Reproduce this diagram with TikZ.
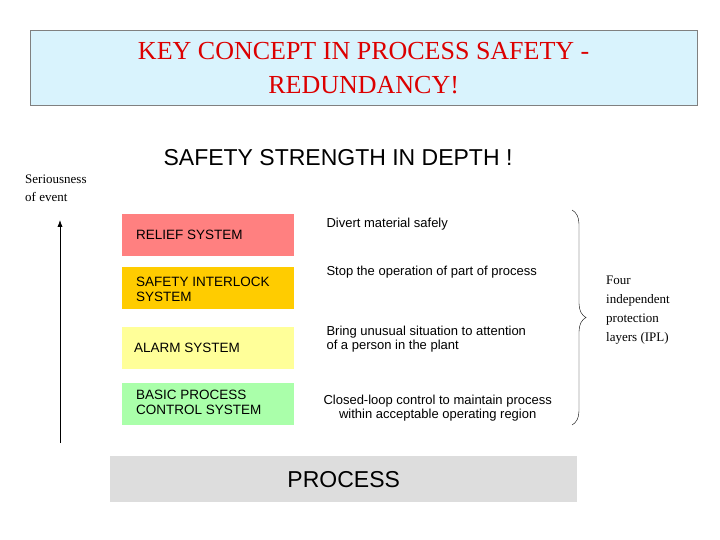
\documentclass[tikz,border=0pt]{standalone}
\usepackage{fontspec}
\setmainfont{Liberation Serif}
\setsansfont{Liberation Sans}
\usetikzlibrary{decorations.pathreplacing,arrows.meta}
\begin{document}
\begin{tikzpicture}[x=1pt,y=-1pt,
 layer/.style={minimum width=172pt,minimum height=42pt,anchor=north west,inner sep=0pt},
 ltext/.style={anchor=west,align=left,font=\sffamily\fontsize{13.5}{15}\selectfont,inner sep=0pt},
 desc/.style={anchor=west,align=left,font=\sffamily\fontsize{13}{14}\selectfont}]
\useasboundingbox (0,0) rectangle (720,540);
\node[draw=gray,fill=cyan!15,minimum width=667pt,minimum height=75pt,anchor=north west,align=center,text={rgb,255:red,220;green,0;blue,0},font=\fontsize{26}{34}\selectfont] (title) at (30,30) {KEY CONCEPT IN PROCESS SAFETY -\\REDUNDANCY!};
\node[font=\sffamily\fontsize{23}{23}\selectfont] (sub) at (338,158) {SAFETY STRENGTH IN DEPTH !};
\node[anchor=north west,align=left,font=\fontsize{13}{18}\selectfont,inner sep=0pt] (ser) at (25,175) {Seriousness\\of event};
\coordinate (a0) at (60,443); \coordinate (a1) at (60,220);
\draw[-{Latex[length=7pt]},thick] (a0) -- (a1);
\node[layer,fill={rgb,255:red,255;green,128;blue,128}] (l1) at (122,214) {};
\node[layer,fill={rgb,255:red,255;green,204;blue,0}] (l2) at (122,267) {};
\node[layer,fill={rgb,255:red,255;green,255;blue,153}] (l3) at (122,327) {};
\node[layer,fill={rgb,255:red,170;green,255;blue,170}] (l4) at (122,383) {};
\node[ltext] (t1) at (136,235) {RELIEF SYSTEM};
\node[ltext] (t2) at (136,289) {SAFETY INTERLOCK\\SYSTEM};
\node[ltext] (t3) at (134,348) {ALARM SYSTEM};
\node[ltext] (t4) at (136,402) {BASIC PROCESS\\CONTROL SYSTEM};
\node[desc] (d1) at (323,224) {Divert material safely};
\node[desc] (d2) at (323,272) {Stop the operation of part of process};
\node[desc] (d3) at (323,339) {Bring unusual situation to attention\\of a person in the plant};
\node[desc,align=center] (d4) at (320,408) {Closed-loop control to maintain process\\within acceptable operating region};
\coordinate (b0) at (572,210); \coordinate (b1) at (572,425);
\draw[decorate,decoration={brace,amplitude=14pt}] (b0) -- (b1);
\node[anchor=north west,align=left,font=\fontsize{13}{19}\selectfont,inner sep=0pt] (ipl) at (606,276) {Four\\independent\\protection\\layers (IPL)};
\node[fill={rgb,255:red,221;green,221;blue,221},minimum width=467pt,minimum height=46pt,anchor=north west,font=\sffamily\fontsize{23}{23}\selectfont] (proc) at (110,456) {PROCESS};
\end{tikzpicture}
\end{document}
